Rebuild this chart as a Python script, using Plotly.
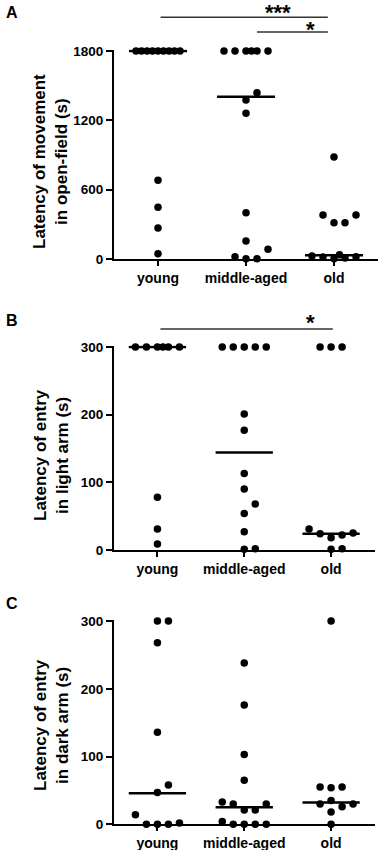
import numpy as np
import plotly.graph_objects as go

groups = ["young", "middle-aged", "old"]

# Panel A: latency of movement in open-field (s)
a_young = [1800, 1800, 1800, 1800, 1800, 1800, 1800, 1800, 1800, 681, 447, 268, 46]
a_middle = [1800, 1800, 1800, 1800, 1800, 1800, 1439, 1376, 1261, 401, 156, 84, 20, 3, 3]
a_old = [883, 381, 381, 314, 314, 36, 26, 20, 17, 8, 2]
a_median = [1800, 1405, 32]
a_ticks = [0, 600, 1200, 1800]

# Panel B: latency of entry in light arm (s)
b_young = [300, 300, 300, 300, 300, 300, 78, 31, 9]
b_middle = [300, 300, 300, 300, 300, 201, 177, 113, 90, 68, 54, 27, 1, 2]
b_old = [300, 300, 300, 31, 25, 24, 22, 18, 2, 1]
b_median = [300, 144, 24]
b_ticks = [0, 100, 200, 300]

# Panel C: latency of entry in dark arm (s)
c_young = [300, 300, 268, 136, 58, 47, 14, 0, 0, 0, 2]
c_middle = [238, 176, 103, 65, 33, 30, 30, 21, 21, 4, 0, 0, 0, 0]
c_old = [300, 55, 54, 55, 35, 30, 30, 26, 18, 0]
c_median = [46, 25, 32]
c_ticks = [0, 100, 200, 300]

# significance comparisons: (panel, from group, to group, label)
comparisons = [("A", "young", "old", "***"), ("A", "middle-aged", "old", "*"),
               ("B", "young", "old", "*")]

W, H = 384, 850
FONT = "Liberation Sans, Arial, sans-serif"
PAD = 1.5

panels = [
    dict(key="A", data=[a_young, a_middle, a_old], med=a_median, ticks=a_ticks,
         x0=114, x1=378, ytop=51, ybot=259,
         title="Latency of movement<br>in open-field (s)", title_y=162, letter_y=13),
    dict(key="B", data=[b_young, b_middle, b_old], med=b_median, ticks=b_ticks,
         x0=114, x1=374.5, ytop=347, ybot=550,
         title="Latency of entry<br>in light arm (s)", title_y=455, letter_y=320),
    dict(key="C", data=[c_young, c_middle, c_old], med=c_median, ticks=c_ticks,
         x0=114, x1=374.5, ytop=621, ybot=824.3,
         title="Latency of entry<br>in dark arm (s)", title_y=725, letter_y=603),
]

# bar geometry (style): start/end offsets in category units, pixel heights
bar_style = {
    ("A", "***"): dict(s=0.03, e=-0.07, y=17.3, tx=1.36, ty=7),
    ("A", "*"): dict(s=0.125, e=-0.07, y=32, tx=1.73, ty=24.5),
    ("B", "*"): dict(s=0.035, e=0.02, y=329, tx=1.76, ty=317),
}


def swarm(values, ppu_y, ppu_x, step=11.0, d=10.5):
    order = sorted(range(len(values)), key=lambda i: values[i])
    placed = []
    offs = [0.0] * len(values)
    cands = [0, 1, -1, 2, -2, 0.5, -0.5, 1.5, -1.5]
    for i in order:
        y = values[i] * ppu_y
        best, bestd = 0.0, -1.0
        for c in cands:
            dx = c * step
            md = min([np.hypot(dx - px, y - py) for px, py in placed], default=1e9)
            if md >= d:
                best = dx
                break
            if md > bestd:
                bestd, best = md, dx
        placed.append((best, y))
        offs[i] = best / ppu_x
    return offs


fig = go.Figure()
layout = dict(width=W, height=H, margin=dict(l=0, r=0, t=0, b=0, pad=0),
              plot_bgcolor="white", paper_bgcolor="white", showlegend=False,
              shapes=[], annotations=[])

for k, p in enumerate(panels):
    n = "" if k == 0 else str(k + 1)
    ymax = p["ticks"][-1]
    ppu_y = (p["ybot"] - p["ytop"]) / ymax
    ppu_x = (p["x1"] - p["x0"]) / 3.0
    p["ppu_x"] = ppu_x
    for gi, vals in enumerate(p["data"]):
        offs = swarm(vals, ppu_y, ppu_x)
        fig.add_trace(go.Scatter(
            x=[gi + o for o in offs], y=vals, mode="markers", xaxis="x" + n, yaxis="y" + n,
            marker=dict(size=7.5, color="black"), cliponaxis=False, hoverinfo="skip"))
        fig.add_trace(go.Scatter(
            x=[gi - 0.33, gi + 0.33], y=[p["med"][gi]] * 2, mode="lines",
            xaxis="x" + n, yaxis="y" + n, line=dict(color="black", width=2.5),
            hoverinfo="skip"))
    layout["xaxis" + n] = dict(
        domain=[p["x0"] / W, p["x1"] / W], anchor="y" + n, range=[-0.5, 2.5],
        tickvals=[0, 1, 2], ticktext=groups, showline=True, linewidth=2,
        linecolor="black", ticks="outside", ticklen=5, tickwidth=2, tickcolor="black",
        tickfont=dict(family=FONT, size=14, color="black", weight="bold"),
        showgrid=False, zeroline=False, fixedrange=True, automargin=False)
    layout["yaxis" + n] = dict(
        domain=[1 - p["ybot"] / H, 1 - (p["ytop"] - PAD) / H], anchor="x" + n,
        range=[0, ymax + PAD / ppu_y], tickvals=p["ticks"], showline=True, linewidth=2,
        linecolor="black", ticks="outside", ticklen=6, tickwidth=2, tickcolor="black",
        tickfont=dict(family=FONT, size=13.5, color="black", weight="bold"),
        showgrid=False, zeroline=False, fixedrange=True, automargin=False)
    layout["annotations"].append(dict(
        text=p["title"], textangle=-90, x=51 / W, y=1 - p["title_y"] / H,
        xref="paper", yref="paper", showarrow=False, xanchor="center", yanchor="middle",
        font=dict(family=FONT, size=17, color="black", weight="bold")))
    layout["annotations"].append(dict(
        text=p["key"], x=12 / W, y=1 - p["letter_y"] / H, xref="paper", yref="paper",
        showarrow=False, xanchor="center", yanchor="middle",
        font=dict(family=FONT, size=16, color="black", weight="bold")))

pmap = {p["key"]: p for p in panels}
for key, g0, g1, lab in comparisons:
    p = pmap[key]
    st = bar_style[(key, lab)]
    i0, i1 = groups.index(g0) + st["s"], groups.index(g1) + st["e"]
    cx = lambda c: (p["x0"] + (c + 0.5) * p["ppu_x"]) / W
    layout["shapes"].append(dict(
        type="line", xref="paper", yref="paper", x0=cx(i0), x1=cx(i1),
        y0=1 - st["y"] / H, y1=1 - st["y"] / H, line=dict(color="#333333", width=1.5)))
    layout["annotations"].append(dict(
        text=lab, x=cx(st["tx"]), y=1 - (st["ty"] + 5) / H, xref="paper", yref="paper",
        showarrow=False, xanchor="center", yanchor="middle",
        font=dict(family=FONT, size=22, color="black", weight="bold")))

fig.update_layout(**layout)
fig.write_html("out.html", config={"displayModeBar": False},
               post_script="document.body.style.margin='0px';document.body.style.overflow='hidden';")
